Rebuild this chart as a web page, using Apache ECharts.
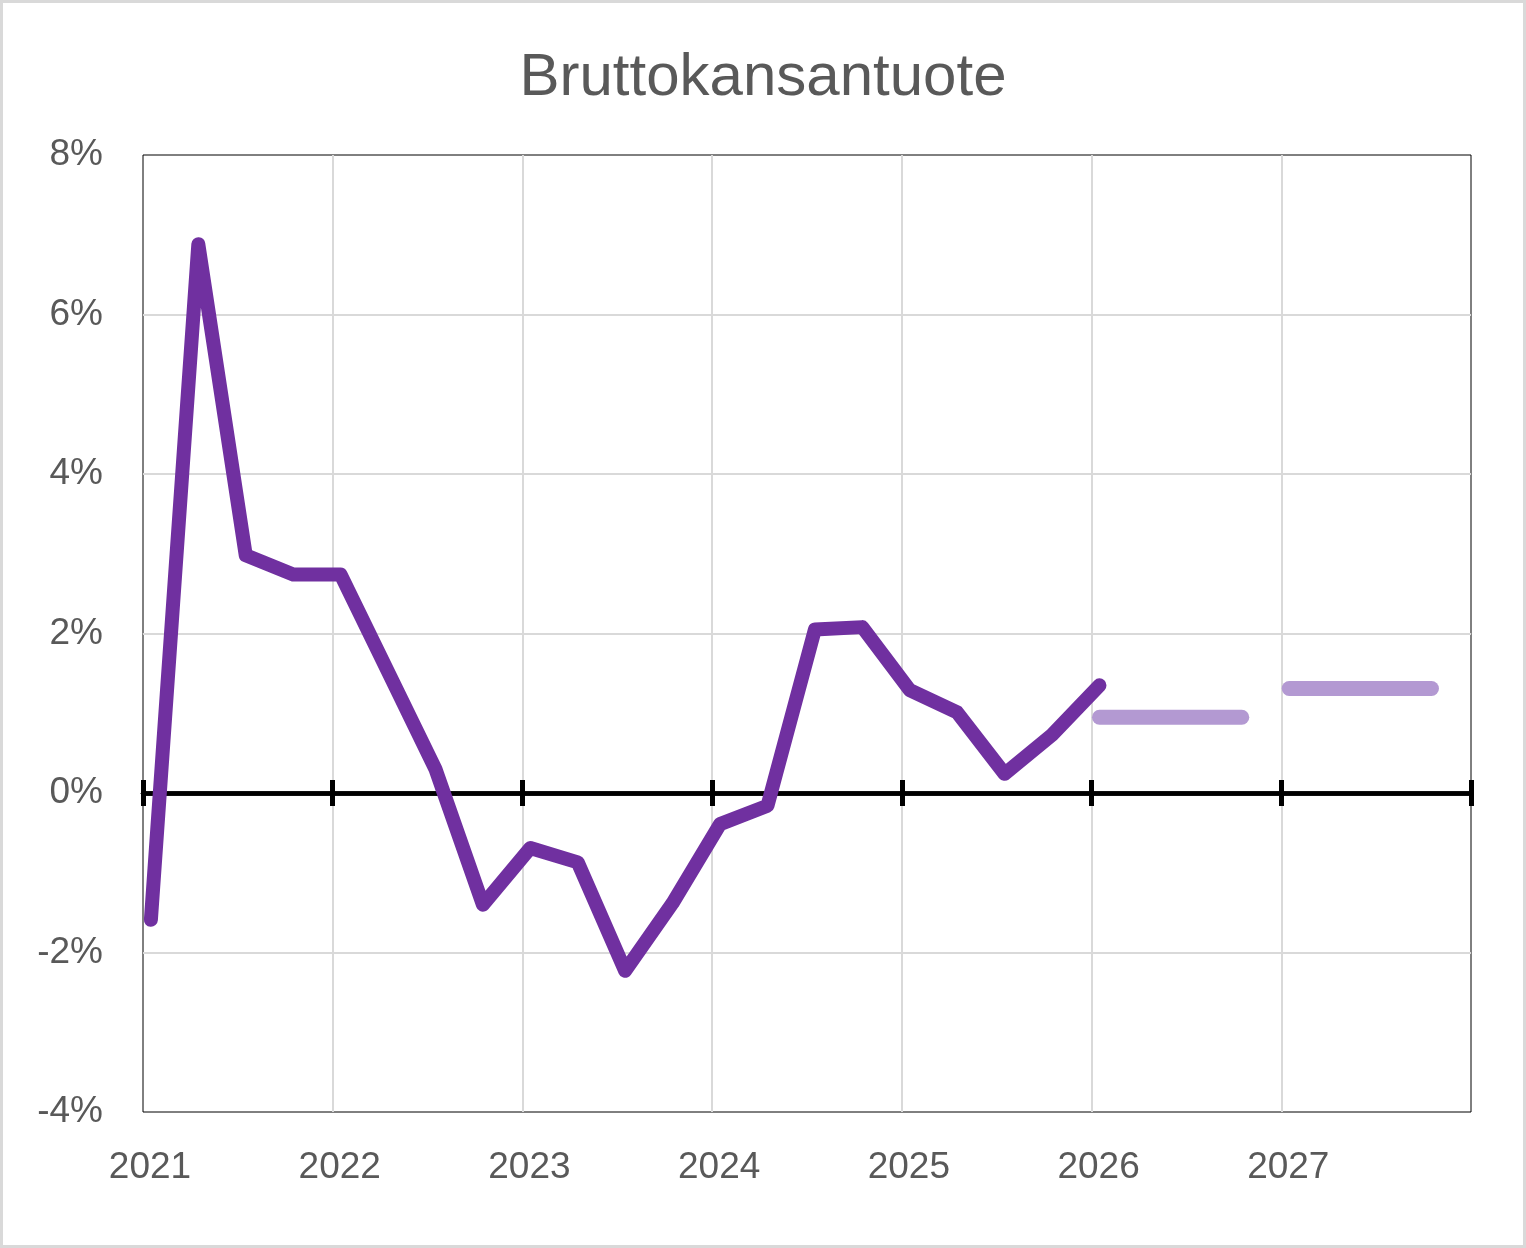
<!DOCTYPE html>
<html>
<head>
<meta charset="utf-8">
<script src="https://cdn.jsdelivr.net/npm/echarts@6/dist/echarts.min.js"></script>
<style>
html,body{margin:0;padding:0;background:#fff;}
#chart{width:1526px;height:1248px;}
</style>
</head>
<body>
<div id="chart"></div>
<script>
// Quarterly GDP change (%), first month of each quarter
const quarters = ['2021Q1','2021Q2','2021Q3','2021Q4','2022Q1','2022Q2','2022Q3','2022Q4',
  '2023Q1','2023Q2','2023Q3','2023Q4','2024Q1','2024Q2','2024Q3','2024Q4',
  '2025Q1','2025Q2','2025Q3','2025Q4','2026Q1'];
const gdp = [-1.59, 6.88, 2.98, 2.74, 2.74, 1.52, 0.30, -1.40,
  -0.69, -0.87, -2.23, -1.38, -0.39, -0.16, 2.05, 2.08,
  1.29, 1.01, 0.24, 0.73, 1.35];
// Annual forecasts
const forecastYears = [2026, 2027];
const forecastValues = [0.95, 1.31];
// Axis ticks
const yearTicks = [2021, 2022, 2023, 2024, 2025, 2026, 2027];
const yTicks = [-4, -2, 0, 2, 4, 6, 8];

function qToX(q) {
  const y = parseInt(q.slice(0, 4), 10);
  const n = parseInt(q.slice(5), 10);
  return y + (3 * (n - 1) + 0.5) / 12;
}

const lineData = quarters.map((q, i) => [qToX(q), gdp[i]]);
const forecastSeries = forecastYears.map((yr, i) => ({
  type: 'line',
  xAxisIndex: 0,
  data: [[qToX(yr + 'Q1'), forecastValues[i]], [qToX(yr + 'Q4'), forecastValues[i]]],
  symbol: 'none',
  lineStyle: { color: '#b399d2', width: 15, cap: 'round' },
  z: 4,
  silent: true
}));

const FONT = 'Liberation Sans, Arial, sans-serif';
const TXT = '#595959';
const xMin = yearTicks[0];
const xMax = yearTicks[yearTicks.length - 1] + 1;

const baseX = {
  type: 'value', min: xMin, max: xMax, interval: 1
};

const chart = echarts.init(document.getElementById('chart'), null, { renderer: 'canvas' });
chart.setOption({
  animation: false,
  backgroundColor: '#fff',
  title: {
    text: 'Bruttokansantuote',
    left: 'center',
    top: 43,
    textStyle: { fontFamily: FONT, fontSize: 60, fontWeight: 'normal', color: TXT }
  },
  graphic: [{
    type: 'rect',
    shape: { x: 1.5, y: 1.5, width: 1523, height: 1245 },
    style: { fill: 'none', stroke: '#d9d9d9', lineWidth: 3 },
    z: 100
  }],
  grid: {
    left: 143, right: 55, top: 155, bottom: 136,
    show: true, borderColor: '#000', borderWidth: 1, backgroundColor: 'transparent'
  },
  xAxis: [
    Object.assign({}, baseX, {
      position: 'bottom',
      axisLine: { show: false, onZero: false },
      axisTick: { show: false },
      splitLine: { show: true, showMinLine: false, showMaxLine: false, lineStyle: { color: '#d9d9d9', width: 2 } },
      axisLabel: {
        show: true, margin: 37, fontFamily: FONT, fontSize: 37, color: TXT,
        padding: [0, 0, 0, 14],
        showMaxLabel: false,
        formatter: v => (yearTicks.indexOf(Math.round(v)) >= 0 ? String(Math.round(v)) : '')
      }
    }),
    Object.assign({}, baseX, {
      position: 'bottom',
      axisLine: { show: true, onZero: true, onZeroAxisIndex: 0, lineStyle: { color: '#000', width: 4.5 } },
      axisTick: { show: true, length: 13, lineStyle: { color: '#000', width: 5 } },
      axisLabel: { show: false },
      splitLine: { show: false }
    }),
    Object.assign({}, baseX, {
      position: 'top',
      axisLine: { show: true, onZero: true, onZeroAxisIndex: 0, lineStyle: { color: '#000', width: 4.5 } },
      axisTick: { show: true, length: 13, lineStyle: { color: '#000', width: 5 } },
      axisLabel: { show: false },
      splitLine: { show: false }
    })
  ],
  yAxis: {
    type: 'value', min: yTicks[0], max: yTicks[yTicks.length - 1], interval: 2,
    axisLine: { show: false },
    axisTick: { show: false },
    splitLine: { show: true, showMinLine: false, showMaxLine: false, lineStyle: { color: '#d9d9d9', width: 2 } },
    axisLabel: { margin: 40, fontFamily: FONT, fontSize: 37, color: TXT, padding: [7, 0, 0, 0], formatter: '{value}%' }
  },
  series: [{
    type: 'line',
    xAxisIndex: 0,
    data: lineData,
    symbol: 'none',
    lineStyle: { color: '#7030a0', width: 14, cap: 'round', join: 'round' },
    z: 5,
    silent: true
  }].concat(forecastSeries)
});
</script>
</body>
</html>
